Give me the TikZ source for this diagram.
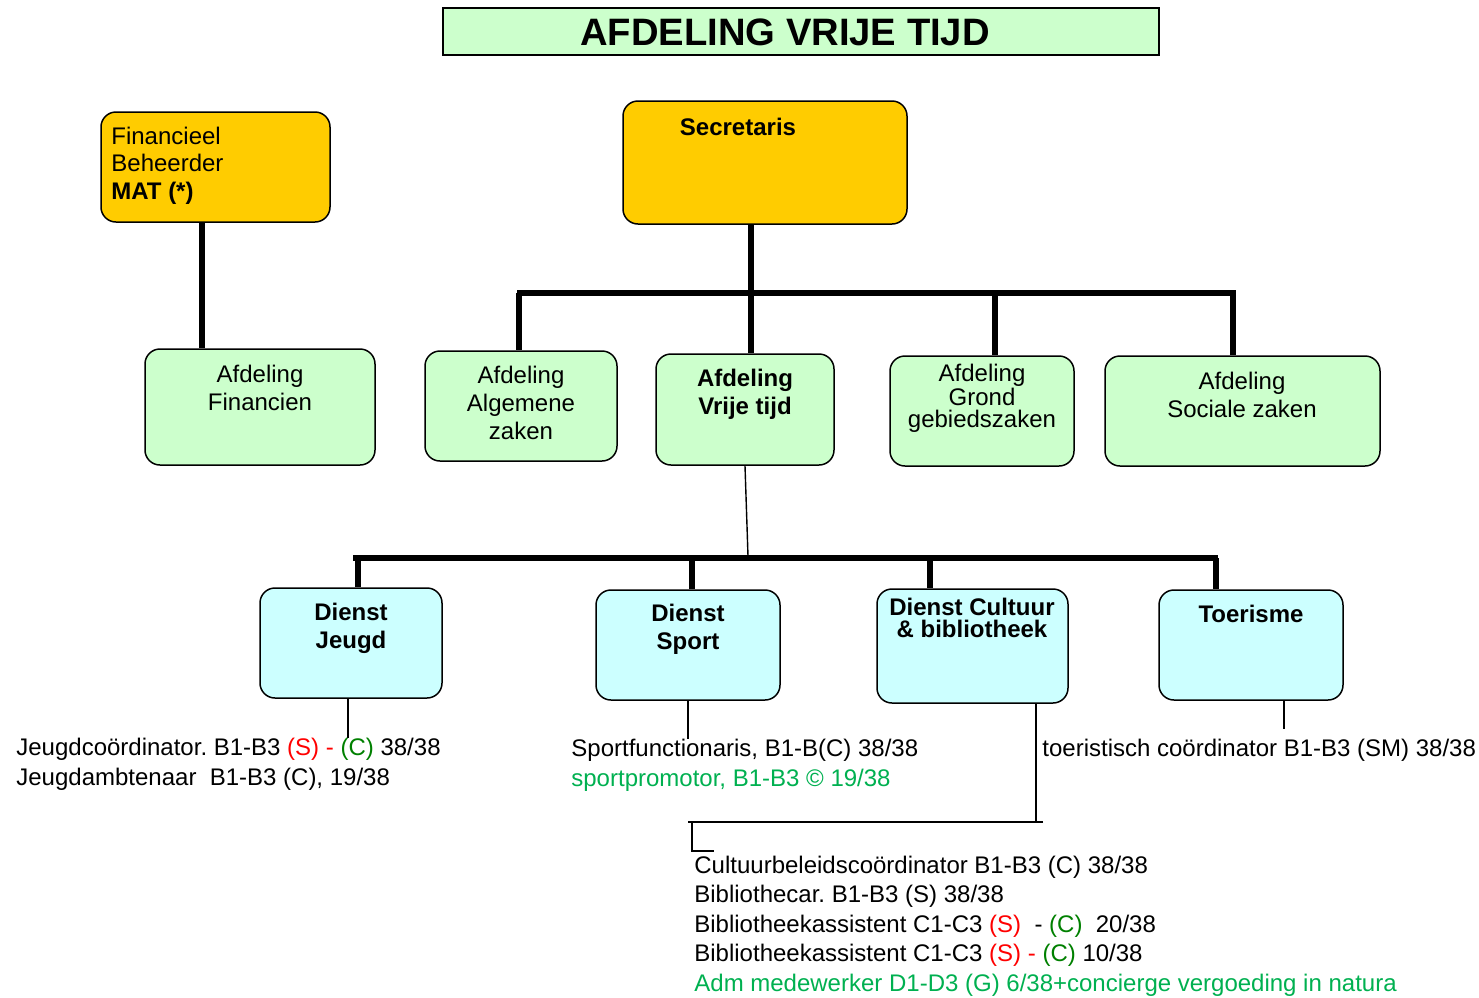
\documentclass[tikz,border=0pt]{standalone}
\usepackage{fontspec}
\setmainfont{Liberation Sans}
\usetikzlibrary{fit}
\definecolor{lgreen}{HTML}{CCFFCC}
\definecolor{lcyan}{HTML}{CCFFFF}
\definecolor{gold}{HTML}{FFCC00}
\definecolor{sred}{HTML}{FF0000}
\definecolor{cgreen}{HTML}{008000}
\definecolor{pgreen}{HTML}{00B050}
\frenchspacing
\begin{document}
\begin{tikzpicture}[x=0.5pt,y=-0.5pt,
  box/.style={draw=black, line width=0.75pt, rounded corners=7.5pt, inner sep=0pt},
  gbox/.style={box, fill=lgreen},
  cbox/.style={box, fill=lcyan},
  ybox/.style={box, fill=gold},
  bar/.style={line width=2.6pt},
  thinline/.style={line width=0.7pt},
  txt/.style={inner sep=0pt, align=center, font=\fontsize{12}{14}\selectfont},
  btxt/.style={txt, font=\fontsize{12}{14}\selectfont\bfseries},
  ltxt/.style={inner sep=0pt, align=left, anchor=west, font=\fontsize{12}{14.85}\selectfont}]
\useasboundingbox (0,0) rectangle (1479,997);
% title
\node[fit={(443,8) (1159,55)}, draw=black, line width=1.2pt, fill=lgreen, inner sep=0pt] (title) {};
\node[inner sep=0pt, font=\fontsize{19.1}{22}\selectfont\bfseries] (titlet) at (785,32) {AFDELING VRIJE TIJD};
% top boxes
\node[ybox, fit={(101,112) (330,222)}] (fin) {};
\node[ybox, fit={(623,101) (907,224)}] (sec) {};
\node[ltxt, font=\fontsize{12}{13.75}\selectfont] (fint) at (111,165.5) {Financieel\\Beheerder\\\textbf{MAT (*)}};
\node[btxt] (sect) at (738,127) {Secretaris};
% afdelingen
\node[gbox, fit={(145,349) (375,465)}] (afin) {};
\node[gbox, fit={(425,351) (617,461)}] (aalg) {};
\node[gbox, fit={(656,354) (834,465)}] (avt) {};
\node[gbox, fit={(890,356) (1074,466)}] (agr) {};
\node[gbox, fit={(1105,356) (1380,466)}] (asoc) {};
\node[txt] (afint) at (260,387.5) {Afdeling\\Financien};
\node[txt] (aalgt) at (521,402.5) {Afdeling\\Algemene\\zaken};
\node[btxt] (avtt) at (745,394) {Afdeling\\Vrije tijd};
\node[txt, font=\fontsize{12}{10.75}\selectfont] (agrt) at (982,398) {Afdeling\\Grond\\gebiedszaken};
\node[txt] (asoct) at (1242,394.5) {Afdeling\\Sociale zaken};
% diensten
\node[cbox, fit={(260,588) (442,698)}] (dj) {};
\node[cbox, fit={(596,590) (780,700)}] (ds) {};
\node[cbox, fit={(877,589) (1068,703)}] (dc) {};
\node[cbox, fit={(1159,590) (1343,700)}] (dt) {};
\node[btxt] (djt) at (351,628) {Dienst\\Jeugd};
\node[btxt] (dst) at (688,629) {Dienst\\Sport};
\node[btxt, font=\fontsize{12}{11}\selectfont\bfseries] (dct) at (972,617.5) {Dienst Cultuur\\\& bibliotheek};
\node[btxt] (dtt) at (1251,613.5) {Toerisme};
% staff lists
\node[ltxt] (jtxt) at (16,764.5) {Jeugdco\"ordinator. B1-B3 \textcolor{sred}{(S) -} \textcolor{cgreen}{(C)} 38/38\\Jeugdambtenaar\ \ B1-B3 (C), 19/38};
\node[ltxt] (stxt) at (571,765) {Sportfunctionaris, B1-B(C) 38/38\\\textcolor{pgreen}{sportpromotor, B1-B3 \textcopyright{} 19/38}};
\node[ltxt] (ttxt) at (1042,750) {toeristisch co\"ordinator B1-B3 (SM) 38/38};
\node[ltxt, font=\fontsize{12}{14.75}\selectfont] (ctxt) at (694,926) {Cultuurbeleidsco\"ordinator B1-B3 (C) 38/38\\
Bibliothecar. B1-B3 (S) 38/38\\
Bibliotheekassistent C1-C3 \textcolor{sred}{(S)}\ \ - \textcolor{cgreen}{(C)}\ \ 20/38\\
Bibliotheekassistent C1-C3 \textcolor{sred}{(S) -} \textcolor{cgreen}{(C)} 10/38\\
\textcolor{pgreen}{Adm medewerker D1-D3 (G) 6/38+concierge vergoeding in natura}};
% coordinates
\coordinate (xfin) at (202,0);
\coordinate (b1l) at (517,293);
\coordinate (b1r) at (1236,293);
\coordinate (xalg) at (519,293);
\coordinate (xsec) at (751,293);
\coordinate (xgr) at (995,293);
\coordinate (xsoc) at (1233,293);
\coordinate (b2l) at (353,558);
\coordinate (b2r) at (1218,558);
\coordinate (b2m) at (748,556);
\coordinate (xj) at (358,558);
\coordinate (xs) at (692,558);
\coordinate (xc) at (930,558);
\coordinate (xt) at (1216,558);
\coordinate (xjt) at (348,0);
\coordinate (xst) at (688,0);
\coordinate (xtt) at (1284,729);
\coordinate (xct) at (1036,822);
\coordinate (brr) at (1043,822);
\coordinate (brl) at (688,822);
\coordinate (brv) at (692,822);
\coordinate (brb) at (692,851);
\coordinate (bre) at (714,851);
% connectors
\draw[bar] (xfin |- fin.south) -- (xfin |- afin.north);
\draw[bar] (xsec |- sec.south) -- (xsec |- avt.north);
\draw[bar] (b1l) -- (b1r);
\draw[bar] (xalg) -- (xalg |- aalg.north);
\draw[bar] (xgr) -- (xgr |- agr.north);
\draw[bar] (xsoc) -- (xsoc |- asoc.north);
\draw[thinline] (avt.south) -- (b2m);
\draw[bar] (b2l) -- (b2r);
\draw[bar] (xj) -- (xj |- dj.north);
\draw[bar] (xs) -- (xs |- ds.north);
\draw[bar] (xc) -- (xc |- dc.north);
\draw[bar] (xt) -- (xt |- dt.north);
\draw[thinline] (xjt |- dj.south) -- (xjt |- jtxt.north);
\draw[thinline] (xst |- ds.south) -- (xst |- stxt.north);
\draw[thinline] (xtt |- dt.south) -- (xtt);
\draw[thinline] (xct |- dc.south) -- (xct);
\draw[thinline] (brr) -- (brl);
\draw[thinline] (brv) -- (brb) -- (bre);
\end{tikzpicture}
\end{document}
